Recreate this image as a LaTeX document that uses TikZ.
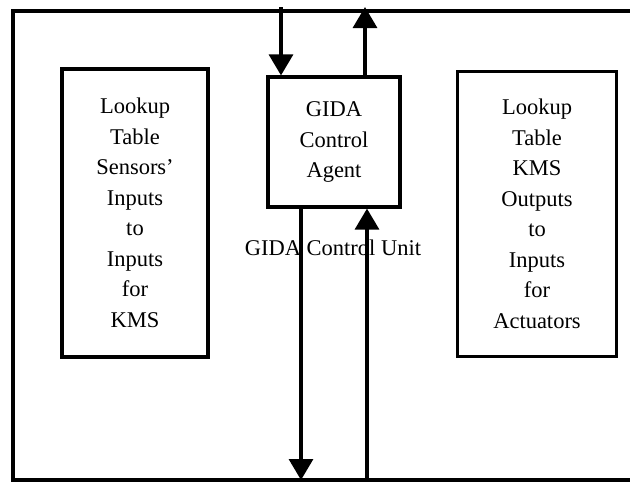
\documentclass[tikz,border=0pt]{standalone}
\usepackage{fontspec}
\setmainfont{Liberation Serif}
\usetikzlibrary{arrows.meta}
\tikzstyle{diagram} = [x = 1pt, y = -1pt]
\tikzstyle{frameLine} = [line width = 3.2pt]
\tikzstyle{boxText} = [font = \fontsize{22.5}{30.5}\selectfont]
\tikzstyle{unitBox} = [draw, line width = 3.2pt, align = center, inner sep = 0pt, boxText]
\tikzstyle{signalArrow} = [line width = 3.2pt, -{Triangle[length = 21pt, width = 24pt]}]

\begin{document}
\begin{tikzpicture}[diagram]
  \useasboundingbox (0,0) rectangle (630,482);
  % outer frame, open on the right
  \draw [frameLine] (630,11) -- (13,11) -- (13,482);
  \draw [frameLine] (13,480) -- (630,480);
  % the three boxes
  \node [unitBox, minimum width = 146pt, minimum height = 288pt] (sensorTable) at (135,213)
    {Lookup\\Table\\Sensors’\\Inputs\\to\\Inputs\\for\\KMS};
  \node [unitBox, minimum width = 132pt, minimum height = 130pt] (agent) at (334,142)
    {GIDA\\Control\\Agent};
  \node [unitBox, minimum width = 159pt, minimum height = 285pt] (actuatorTable) at (537,214)
    {Lookup\\Table\\KMS\\Outputs\\to\\Inputs\\for\\Actuators};
  \node [boxText, inner sep = 0pt] (unitLabel) at (333,248) {GIDA Control Unit};
  % signals in and out of the agent
  \coordinate (topIn) at (281,7);
  \coordinate (topOut) at (365,7);
  \coordinate (bottomOut) at (301,480);
  \coordinate (bottomIn) at (367,480);
  \draw [signalArrow] (topIn) -- (topIn |- agent.north);
  \draw [signalArrow] (topOut |- agent.north) -- (topOut);
  \draw [signalArrow] (bottomOut |- agent.south) -- (bottomOut);
  \draw [signalArrow] (bottomIn) -- (bottomIn |- agent.south);
\end{tikzpicture}
\end{document}
